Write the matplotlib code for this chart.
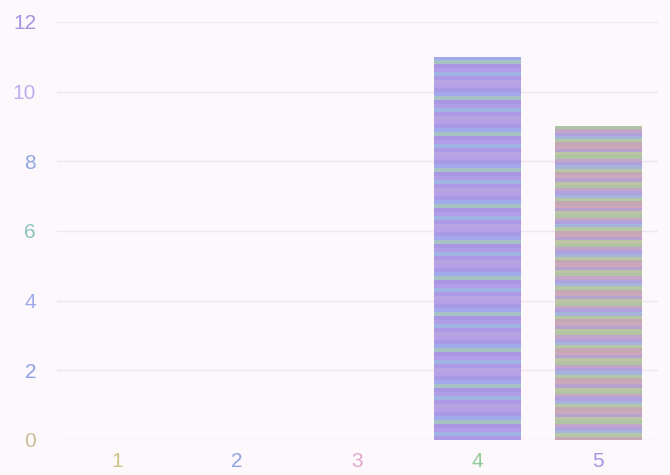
import matplotlib
matplotlib.use("Agg")
import matplotlib.pyplot as plt
import numpy as np
from matplotlib.colors import to_rgb

categories = ["1", "2", "3", "4", "5"]
values = [0, 0, 0, 11, 9]
y_ticks = [0, 2, 4, 6, 8, 10, 12]

ytick_colors = ["#cbbd98", "#8ea0e6", "#a0aaea", "#8cc4bc", "#90a8e6", "#bcaef0", "#a096e2"]
xtick_colors = ["#cac684", "#90a4e2", "#e2a6cc", "#92ca96", "#a496e2"]

# stripe palettes (style only)
stripes_a = ["#ad9ae6", "#b6a0e8", "#a2aaec", "#c4a4d8", "#ab96e6", "#a0b4e4",
             "#b8a4e0", "#cca8c8", "#a99ae8", "#a6c2c4", "#b09ee8", "#baa6dc"]
stripes_b = ["#c4a8b4", "#b6a2cc", "#b0c4a4", "#c8b0a6", "#b0a0dc", "#b4c8a6",
             "#cca8bc", "#aaa6e0", "#bcc4a6", "#c2a6c8", "#a6b4dc", "#c8b2a8"]

plt.rcParams["font.family"] = ["Liberation Sans", "DejaVu Sans"]

fig = plt.figure(figsize=(6.7, 4.75), dpi=100)
fig.patch.set_facecolor("#fdf8fc")
ax = fig.add_axes([0.085, 0.0737, 0.897, 0.88])
ax.set_facecolor("#fdf8fc")

x = np.arange(len(categories))
bars = ax.bar(x, values, width=0.72, color="#b0a0e0", zorder=2)

for b, pal in zip(bars, [None, None, None, stripes_a, stripes_b]):
    if pal is None or b.get_height() <= 0:
        continue
    n = 96
    cols = np.array([to_rgb(pal[(i * 5 + i // 3) % len(pal)]) for i in range(n)])
    img = cols.reshape(n, 1, 3)
    x0, w, h = b.get_x(), b.get_width(), b.get_height()
    im = ax.imshow(img, extent=[x0, x0 + w, 0, h], aspect="auto",
                   interpolation="nearest", zorder=3, origin="lower")
    im.set_clip_path(b)

ax.set_xlim(-0.5, 4.5)
ax.set_ylim(0, 12)
ax.set_xticks(x)
ax.set_xticklabels(categories)
ax.set_yticks(y_ticks)
ax.set_yticklabels([str(t) for t in y_ticks])
for lab, c in zip(ax.get_xticklabels(), xtick_colors):
    lab.set_color(c)
for lab, c in zip(ax.get_yticklabels(), ytick_colors):
    lab.set_color(c)
ax.tick_params(axis="both", length=0, labelsize=15)
ax.tick_params(axis="y", pad=15)
ax.tick_params(axis="x", pad=9)
for s in ax.spines.values():
    s.set_visible(False)
ax.grid(axis="y", color="#efe6f4", linewidth=1.0, zorder=0)
ax.set_axisbelow(True)

fig.savefig("out.png", dpi=100, facecolor=fig.get_facecolor())
